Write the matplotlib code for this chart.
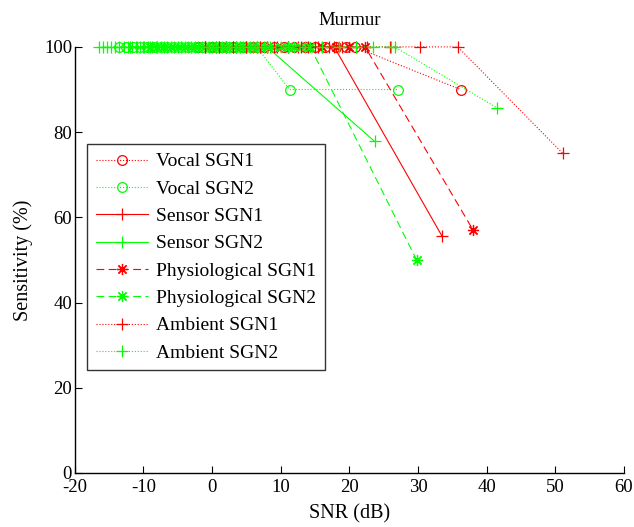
import matplotlib
matplotlib.use("Agg")
import matplotlib.pyplot as plt

plt.rcParams['font.family'] = ['Liberation Serif', 'DejaVu Serif']
plt.rcParams['axes.unicode_minus'] = False

# SNR (dB) and sensitivity (%) per curve
vocal1_x = [-2, 0, 1.5, 3, 4.5, 6, 7.5, 9, 10.5, 12, 13.5, 15, 16.5, 18, 19.5, 20.8, 36.2]
vocal1_y = [100, 100, 100, 100, 100, 100, 100, 100, 100, 100, 100, 100, 100, 100, 100, 100, 90]

vocal2_x = [-13.5, -12.5, -11.5, -10.5, -9.5, -8.5, -7.5, -6.5, -5.5, -4.5, -3.5, -2.5, -1.5,
            -0.5, 0.5, 1.5, 2.5, 3.5, 4.5, 5.5, 6.5, 11.3, 27.1]
vocal2_y = [100, 100, 100, 100, 100, 100, 100, 100, 100, 100, 100, 100, 100,
            100, 100, 100, 100, 100, 100, 100, 100, 90, 90]

sensor1_x = [-1, 0.5, 2, 3.5, 5, 6.5, 8, 9.5, 11, 12.5, 14, 15.5, 17.8, 33.5]
sensor1_y = [100, 100, 100, 100, 100, 100, 100, 100, 100, 100, 100, 100, 100, 55.6]

sensor2_x = [-12, -11, -10, -9, -8, -7, -6, -5, -4, -3, -2, -1, 0, 1, 2, 3, 4, 5, 6, 7, 8, 23.7]
sensor2_y = [100, 100, 100, 100, 100, 100, 100, 100, 100, 100, 100, 100, 100, 100, 100, 100,
             100, 100, 100, 100, 100, 77.8]

physio1_x = [0, 2, 4, 6, 8, 10, 12, 14, 16, 18, 20, 22.3, 38.0]
physio1_y = [100, 100, 100, 100, 100, 100, 100, 100, 100, 100, 100, 100, 57.1]

physio2_x = [-9, -8, -7, -6, -5, -4, -3, -2, -1, 0, 1, 2, 3, 4, 5, 6, 7, 8, 9, 10, 11, 12, 13, 14.3, 29.8]
physio2_y = [100, 100, 100, 100, 100, 100, 100, 100, 100, 100, 100, 100, 100, 100, 100, 100,
             100, 100, 100, 100, 100, 100, 100, 100, 50]

amb1_x = [-1, 1, 3, 5, 7, 9, 11, 13, 15, 17, 19, 21, 22.6, 25.9, 30.3, 35.8, 51.1]
amb1_y = [100, 100, 100, 100, 100, 100, 100, 100, 100, 100, 100, 100, 100, 100, 100, 100, 75]

amb2_x = [-16.5, -15.9, -15.3, -14.7, -14.1, -13.5, -12.9, -12.3, -11.7, -11.1, -10.5, -9.9,
          -9.3, -8.7, -8.1, -7.5, -6.5, -5.5, -4.5, -3.5, -2.5, -1.5, -0.5, 0.5, 1.5, 2.5,
          3.5, 4.5, 5.5, 6.5, 7.5, 8.5, 11, 13.5, 16, 18.5, 21, 23.5, 26.1, 26.6, 41.5]
amb2_y = [100] * 40 + [85.7]

fig = plt.figure(figsize=(6.34, 5.27), dpi=100)
ax = fig.add_axes([0.118, 0.1025, 0.866, 0.8085])

R = (1, 0, 0)
G = (0, 1, 0)
STAR = (8, 2, 0)  # asterisk, like matlab '*'
kw = dict(linewidth=0.8, clip_on=False, markeredgewidth=0.9)

ax.plot(vocal1_x, vocal1_y, ':', color=R, marker='o', markersize=7, markerfacecolor='none', label='Vocal SGN1', **kw)
ax.plot(vocal2_x, vocal2_y, ':', color=G, marker='o', markersize=7, markerfacecolor='none', label='Vocal SGN2', **kw)
ax.plot(sensor1_x, sensor1_y, '-', color=R, marker='+', markersize=9, label='Sensor SGN1', **kw)
ax.plot(sensor2_x, sensor2_y, '-', color=G, marker='+', markersize=9, label='Sensor SGN2', **kw)
ax.plot(physio1_x, physio1_y, '--', color=R, marker=STAR, markersize=8, label='Physiological SGN1',
        dashes=(7, 4), **kw)
ax.plot(physio2_x, physio2_y, '--', color=G, marker=STAR, markersize=8, label='Physiological SGN2',
        dashes=(7, 4), **kw)
ax.plot(amb1_x, amb1_y, ':', color=R, marker='+', markersize=9, label='Ambient SGN1', **kw)
ax.plot(amb2_x, amb2_y, ':', color=G, marker='+', markersize=9, label='Ambient SGN2', **kw)

ax.set_xlim(-20, 60)
ax.set_ylim(0, 100)
ax.set_xticks(range(-20, 61, 10))
ax.set_yticks(range(0, 101, 20))
ax.tick_params(direction='in', length=5, labelsize=13.5, width=0.8, pad=2)
ax.tick_params(axis='x', pad=4)
ax.spines['top'].set_visible(False)
ax.spines['right'].set_visible(False)
for s in ('left', 'bottom'):
    ax.spines[s].set_linewidth(1.0)

ax.set_xlabel('SNR (dB)', fontsize=14.5, labelpad=6)
ax.set_ylabel('Sensitivity (%)', fontsize=14.5, labelpad=8)
ax.set_title('Murmur', fontsize=13.5, pad=16)

leg = ax.legend(loc='upper left', bbox_to_anchor=(0.022, 0.772), borderaxespad=0,
                fontsize=14, frameon=True, fancybox=False, edgecolor='black',
                handlelength=2.7, labelspacing=0.5, borderpad=0.45, handletextpad=0.4)
leg.get_frame().set_linewidth(1.0)

fig.savefig('out.png', dpi=100)
